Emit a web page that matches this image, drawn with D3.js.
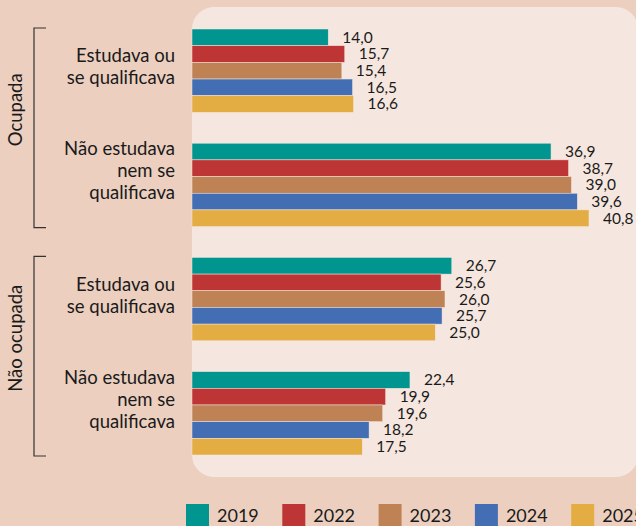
<!DOCTYPE html>
<html>
<head>
<meta charset="utf-8">
<script src="https://cdn.jsdelivr.net/npm/d3@7"></script>
<style>
	body { margin: 0; background: #ECCFBF; }
	svg { display: block; font-family: Lato, "Noto Sans", sans-serif; }
</style>
</head>
<body>
<svg class="chart"></svg>
<script>
// data
var years = ["2019", "2022", "2023", "2024", "2025"];
var colors = ["#00968F", "#BE3535", "#BF8254", "#436EB4", "#E3AD43"];
var groups = ["Ocupada", "Não ocupada"];
var categories = ["ocup_est", "ocup_nao", "naoocup_est", "naoocup_nao"];
var categoryLabels = [
	["Estudava ou", "se qualificava"],
	["Não estudava", "nem se", "qualificava"],
	["Estudava ou", "se qualificava"],
	["Não estudava", "nem se", "qualificava"]
];
var values = [
	[14.0, 15.7, 15.4, 16.5, 16.6],
	[36.9, 38.7, 39.0, 39.6, 40.8],
	[26.7, 25.6, 26.0, 25.7, 25.0],
	[22.4, 19.9, 19.6, 18.2, 17.5]
];

var width = 636, height = 526;
var svg = d3.select("svg.chart")
	.attr("width", width)
	.attr("height", height);

// panel behind bars
svg.append("rect")
	.attr("x", 192).attr("y", 7)
	.attr("width", 446).attr("height", 470)
	.attr("rx", 22)
	.attr("fill", "#F5E7DF");

// scales
var x = d3.scaleLinear().domain([0, 50]).range([192, 678.5]);
var y = d3.scaleBand().domain(categories).range([29, 455]).paddingInner(0.27).paddingOuter(0);
var yInner = d3.scaleBand().domain(years).range([0, y.bandwidth()]).padding(0);
var color = d3.scaleOrdinal().domain(years).range(colors);
var fmt = function(v) { return d3.format(".1f")(v).replace(".", ","); };

var rows = [];
categories.forEach(function(c, i) {
	years.forEach(function(yr, j) {
		rows.push({cat: c, year: yr, value: values[i][j]});
	});
});

// bars
svg.append("g").selectAll("rect")
	.data(rows)
	.enter()
	.append("rect")
	.attr("x", x(0))
	.attr("y", function(d) { return y(d.cat) + yInner(d.year); })
	.attr("width", function(d) { return x(d.value) - x(0); })
	.attr("height", yInner.bandwidth())
	.attr("fill", function(d) { return color(d.year); })
	.attr("stroke", "#F5E7DF")
	.attr("stroke-width", 0.5);

// value labels
svg.append("g").selectAll("text")
	.data(rows)
	.enter()
	.append("text")
	.attr("x", function(d) { return x(d.value) + 14; })
	.attr("y", function(d) { return y(d.cat) + yInner(d.year) + yInner.bandwidth() / 2; })
	.attr("dy", "0.35em")
	.attr("font-size", 15.5)
	.attr("fill", "#1a1a1a")
	.text(function(d) { return fmt(d.value); });

// category labels
categories.forEach(function(c, i) {
	var lines = categoryLabels[i];
	var mid = y(c) + y.bandwidth() / 2 - 4 - (lines.length - 2) * 10;
	var t = svg.append("text")
		.attr("text-anchor", "end")
		.attr("font-size", 18.5)
		.attr("fill", "#1a1a1a");
	lines.forEach(function(l, k) {
		t.append("tspan")
			.attr("x", 175)
			.attr("y", mid + (k - (lines.length - 1) / 2) * 22)
			.attr("dy", "0.35em")
			.text(l);
	});
});

// group brackets
groups.forEach(function(g, i) {
	var top = y(categories[i * 2]) - 1;
	var bottom = y(categories[i * 2 + 1]) + y.bandwidth() + 1;
	svg.append("path")
		.attr("d", "M46," + top + "H34V" + bottom + "H46")
		.attr("fill", "none")
		.attr("stroke", "#333")
		.attr("stroke-width", 1.2);
	svg.append("text")
		.attr("transform", "translate(16," + ((top + bottom) / 2 - 18) + ") rotate(-90)")
		.attr("text-anchor", "middle")
		.attr("dy", "0.35em")
		.attr("font-size", 18.5)
		.attr("fill", "#1a1a1a")
		.text(g);
});

// legend
var legend = svg.append("g").selectAll("g")
	.data(years)
	.enter()
	.append("g")
	.attr("transform", function(d, i) { return "translate(" + (186 + i * 96.3) + ",504)"; });
legend.append("rect")
	.attr("width", 23).attr("height", 22)
	.attr("fill", function(d) { return color(d); });
legend.append("text")
	.attr("x", 31).attr("y", 18)
	.attr("font-size", 18)
	.attr("fill", "#1a1a1a")
	.text(function(d) { return d; });
</script>
</body>
</html>
